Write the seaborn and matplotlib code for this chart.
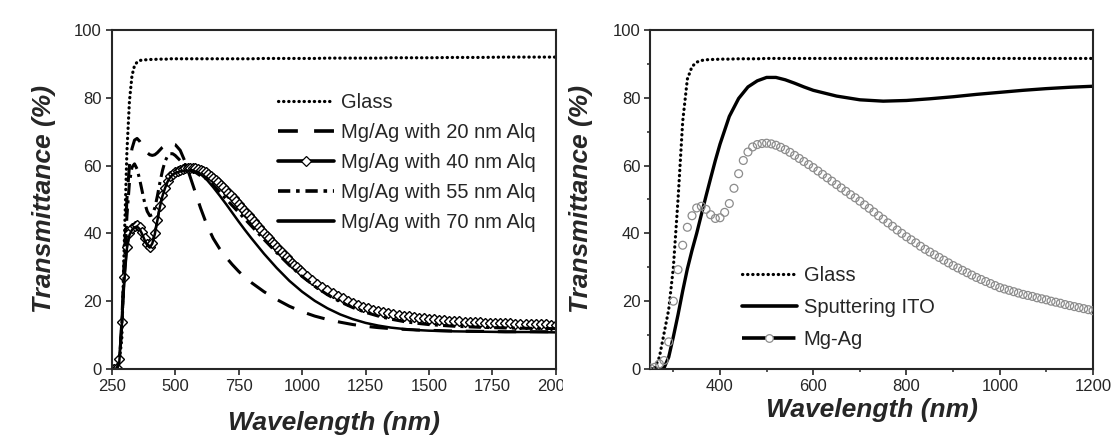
import numpy as np
import matplotlib
matplotlib.use('Agg')
import matplotlib.pyplot as plt
import seaborn as sns
from matplotlib.lines import Line2D
from matplotlib.transforms import Bbox, TransformedBbox

sns.set_style('ticks')
plt.rcParams['font.family'] = ['Liberation Sans', 'DejaVu Sans']

# ---- left panel: Mg/Ag with Alq capping layers ----
wl_left = [250, 260, 270, 280, 290, 300, 310, 320, 330, 340, 350, 360, 370, 380, 390,
           400, 410, 420, 430, 440, 450, 460, 470, 480, 490, 500, 520, 540, 560, 580,
           600, 625, 650, 675, 700, 725, 750, 775, 800, 850, 900, 950, 1000, 1050, 1100,
           1150, 1200, 1250, 1300, 1350, 1400, 1450, 1500, 1600, 1700, 1800, 1900, 2000]

glass_left = [0, 0, 0.5, 2, 9, 38, 64, 79, 86.5, 89.5, 90.5, 91, 91.1, 91.2, 91.2,
              91.3, 91.3, 91.3, 91.4, 91.4, 91.4, 91.4, 91.4, 91.5, 91.5, 91.5, 91.5, 91.5, 91.5, 91.5,
              91.5, 91.5, 91.5, 91.5, 91.5, 91.5, 91.5, 91.5, 91.5, 91.6, 91.6, 91.6, 91.6, 91.6, 91.7,
              91.7, 91.7, 91.7, 91.7, 91.8, 91.8, 91.8, 91.8, 91.9, 91.9, 92, 92, 92]

alq20 = [0, 0, 0, 2, 14, 33, 50, 60, 65, 67.5, 68, 67.2, 66, 64.8, 63.8,
         63.2, 63, 63.2, 63.8, 64.6, 65.4, 66, 66.4, 66.5, 66.4, 66.2, 64.5, 61, 56.5, 52,
         47.5, 42.5, 38.5, 35.5, 33, 30.8, 28.8, 27, 25.5, 22.8, 20.5, 18.5, 16.9, 15.6, 14.6,
         13.8, 13.1, 12.6, 12.2, 11.9, 11.7, 11.5, 11.4, 11.2, 11.1, 11, 11, 11]

alq55 = [0, 0, 0, 2, 13, 30, 45, 55, 59.5, 60.5, 59, 56, 52.5, 49, 46.5,
         45.2, 45.5, 47.5, 51, 55, 58.5, 61.2, 62.8, 63.5, 63.5, 63, 61.5, 60, 58.8, 58,
         57, 56, 54.2, 52.2, 50.2, 48.2, 46.2, 44.2, 42.2, 38.2, 34.3, 30.6, 27.3, 24.4, 21.9,
         19.8, 18.1, 16.7, 15.6, 14.7, 14, 13.5, 13.1, 12.6, 12.3, 12.1, 12, 11.9]

alq70 = [0, 0, 0, 2, 13, 26, 35.5, 39.5, 41, 41.8, 42, 41.3, 39.8, 38, 36.5,
         35.8, 37, 39.8, 43.8, 47.8, 51, 53.3, 55.2, 56.5, 57.3, 57.8, 58.3, 58.5, 58.5, 58.2,
         57.5, 55.8, 53.6, 51.2, 48.7, 46.1, 43.5, 41, 38.6, 34, 29.8, 26, 22.8, 20.1, 17.9,
         16.1, 14.7, 13.6, 12.8, 12.2, 11.8, 11.5, 11.3, 11.1, 11, 10.9, 10.9, 10.8]

# 40 nm curve is drawn with dense markers, so it has its own finer grid
wl_alq40 = np.concatenate([np.arange(250, 1001, 10), np.arange(1020, 2001, 20)])
alq40 = [0, 0, 0.3, 3, 14, 27, 36, 40, 41.5, 42.3, 42.5, 41.8, 40.3, 38.5, 36.8,
         36, 37.2, 40, 44, 48, 51.2, 53.5, 55.5, 56.8, 57.6, 58.1, 58.5, 58.8, 59, 59.2,
         59.3, 59.4, 59.4, 59.3, 59.1, 58.8,
         58.4, 58, 57.5, 57, 56.4, 55.8, 55.1, 54.3, 53.6, 52.8,
         52, 51.2, 50.4, 49.5, 48.7, 47.8, 47, 46.1, 45.3, 44.4,
         43.6, 42.7, 41.9, 41, 40.2, 39.3, 38.5, 37.6, 36.8, 36,
         35.2, 34.4, 33.7, 32.9, 32.2, 31.4, 30.7, 30, 29.3, 28.7,
         27.5, 26.3, 25.2, 24.2, 23.3, 22.4, 21.6, 20.9, 20.2, 19.5,
         19, 18.4, 17.9, 17.4, 17.1, 16.8, 16.5, 16.2, 16, 15.7,
         15.5, 15.3, 15.1, 14.9, 14.8, 14.7, 14.5, 14.4, 14.3, 14.2,
         14.1, 14, 14, 13.9, 13.8, 13.7, 13.7, 13.6, 13.6, 13.5,
         13.5, 13.4, 13.4, 13.3, 13.3, 13.3, 13.2, 13.2, 13.1, 13.1]

# ---- right panel: glass / sputtered ITO / Mg-Ag ----
wl_right = [250, 260, 270, 280, 290, 300, 310, 320, 330, 340, 350, 360, 370, 380, 390,
            400, 420, 440, 460, 480, 500, 520, 540, 560, 580, 600, 650, 700, 750, 800,
            850, 900, 950, 1000, 1050, 1100, 1150, 1200]

glass_right = [0, 0.3, 3.5, 10.5, 17.5, 30, 50, 73, 85.5, 89.2, 90.5, 91, 91.2, 91.3, 91.3,
               91.4, 91.4, 91.5, 91.5, 91.5, 91.6, 91.6, 91.6, 91.6, 91.6, 91.6, 91.6, 91.6, 91.6, 91.6,
               91.6, 91.6, 91.6, 91.6, 91.6, 91.6, 91.6, 91.6]

ito = [0, 0, 0, 0.3, 3.5, 9.5, 16, 23, 29.5, 35, 40, 45.5, 51, 56.3, 61.5,
       66.3, 74.5, 79.8, 83.2, 85, 86, 86, 85.3, 84.3, 83.2, 82.2, 80.5, 79.4, 79, 79.2,
       79.7, 80.3, 81, 81.6, 82.2, 82.7, 83.1, 83.4]

wl_mgag = np.arange(250, 1201, 10)
mgag = [0.3, 0.5, 1.5, 2.5, 8, 20, 29.3, 36.5, 41.8, 45.2, 47.5, 48, 47.1, 45.5, 44.4,
        44.6, 46.2, 48.8, 53.3, 57.6, 61.5, 64, 65.5, 66.2, 66.5, 66.6, 66.4, 66, 65.4, 64.7,
        63.9, 63, 62.1, 61.2, 60.3, 59.4, 58.4, 57.4, 56.4, 55.4, 54.4, 53.4, 52.4, 51.4, 50.5,
        49.5, 48.4, 47.4, 46.3, 45.2, 44.2, 43.1, 42.1, 41, 40, 39, 38.1, 37.2, 36.2, 35.3,
        34.5, 33.7, 32.9, 32.1, 31.3, 30.5, 29.8, 29.1, 28.4, 27.7, 27, 26.4, 25.8, 25.2, 24.6,
        24, 23.6, 23.2, 22.8, 22.4, 22, 21.7, 21.4, 21, 20.7, 20.4, 20, 19.7, 19.4, 19,
        18.7, 18.4, 18.1, 17.8, 17.5, 17.2]

# line styles
DOT = (0, (0.1, 1.5))
DASH = (0, (6, 4.5))
DASHDOT = (0, (4, 1.7, 1, 1.7))
GRAY = '#8c8c8c'

fig = plt.figure(figsize=(11.2, 4.42), dpi=100)
ax1 = fig.add_axes([0.0997, 0.1652, 0.3967, 0.767])
ax2 = fig.add_axes([0.5804, 0.1652, 0.3955, 0.767])

# left panel
sns.lineplot(x=wl_left, y=glass_left, ax=ax1, color='black', lw=2.3,
             linestyle=DOT, dash_capstyle='round')
sns.lineplot(x=wl_left, y=alq20, ax=ax1, color='black', lw=2.2, linestyle=DASH)
sns.lineplot(x=wl_alq40, y=alq40, ax=ax1, color='black', lw=1.8, marker='D',
             markersize=5.5, mfc='white', mec='black', mew=1.0)
sns.lineplot(x=wl_left, y=alq55, ax=ax1, color='black', lw=2.2, linestyle=DASHDOT)
sns.lineplot(x=wl_left, y=alq70, ax=ax1, color='black', lw=1.8)

# right panel
sns.lineplot(x=wl_right, y=glass_right, ax=ax2, color='black', lw=2.3,
             linestyle=DOT, dash_capstyle='round')
sns.lineplot(x=wl_right, y=ito, ax=ax2, color='black', lw=2.4)
sns.scatterplot(x=wl_mgag, y=mgag, ax=ax2, marker='o', s=32,
                edgecolor=GRAY, linewidth=0.9, zorder=3)
ax2.collections[-1].set_facecolor('none')

lab_font = dict(fontsize=19, fontweight='bold', fontstyle='italic')
for ax in (ax1, ax2):
    ax.set_ylim(0, 100)
    ax.set_ylabel('Transmittance (%)', **lab_font)
    ax.set_xlabel('Wavelength (nm)', **lab_font)
    ax.tick_params(which='major', direction='out', length=4, width=1.2,
                   labelsize=12, pad=3)
    ax.tick_params(which='minor', direction='out', length=2.5, width=1.1)
    for s in ax.spines.values():
        s.set_linewidth(1.5)
        s.set_visible(True)
    ax.set_yticks([0, 20, 40, 60, 80, 100])

ax1.set_xlim(250, 2000)
ax1.set_xticks([250, 500, 750, 1000, 1250, 1500, 1750, 2000])
ax2.set_xlim(250, 1200)
ax2.set_xticks([400, 600, 800, 1000, 1200])
ax2.set_xticks([300, 500, 700, 900, 1100], minor=True)
ax2.set_yticks([10, 30, 50, 70, 90], minor=True)

ax1.yaxis.set_label_coords(-0.125, 0.5)
ax2.yaxis.set_label_coords(-0.129, 0.5)
ax1.xaxis.set_label_coords(0.5, -0.125)
ax2.xaxis.set_label_coords(0.5, -0.085)

# legends
h_glass = Line2D([], [], color='black', lw=2.3, linestyle=DOT, dash_capstyle='round')
h20 = Line2D([], [], color='black', lw=2.6, linestyle=(0, (5.5, 4.5)))
h40 = Line2D([], [], color='black', lw=2.6, marker='D', markersize=5.5,
             mfc='white', mec='black', mew=0.9)
h55 = Line2D([], [], color='black', lw=2.6, linestyle=(0, (3.4, 1.6, 1, 1.6)))
h70 = Line2D([], [], color='black', lw=2.6)
ax1.legend([h_glass, h20, h40, h55, h70],
           ['Glass', 'Mg/Ag with 20 nm Alq', 'Mg/Ag with 40 nm Alq',
            'Mg/Ag with 55 nm Alq', 'Mg/Ag with 70 nm Alq'],
           loc='upper left', bbox_to_anchor=(0.374, 0.815), frameon=False,
           fontsize=14.5, handlelength=2.8, handletextpad=0.35, labelspacing=0.55,
           borderpad=0, borderaxespad=0)

h_ito = Line2D([], [], color='black', lw=2.6)
h_mgag = Line2D([], [], color='black', lw=2.6, linestyle=(0, (6.6, 1.6)), marker='o',
                markersize=5.5, mfc='white', mec=GRAY, mew=0.9)
ax2.legend([h_glass, h_ito, h_mgag], ['Glass', 'Sputtering ITO', 'Mg-Ag'],
           loc='upper left', bbox_to_anchor=(0.208, 0.305), frameon=False,
           fontsize=14.5, handlelength=2.7, handletextpad=0.35, labelspacing=0.65,
           borderpad=0, borderaxespad=0)

# the "2000" label of the left panel is cut off at the panel edge in the original
clip = TransformedBbox(Bbox.from_extents(0, 0, 563 / 1120, 1), fig.transFigure)
for t in ax1.get_xticklabels():
    t.set_clip_box(clip)
    t.set_clip_on(True)

fig.savefig('out.png', dpi=100)
